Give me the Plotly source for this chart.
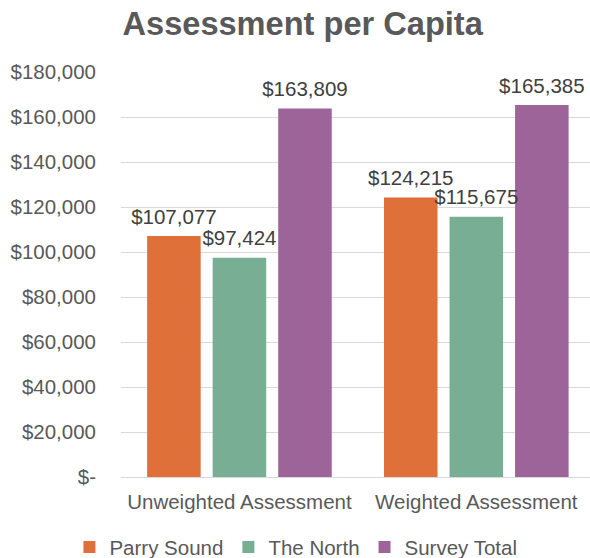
import plotly.graph_objects as go

categories = ["Unweighted Assessment", "Weighted Assessment"]
series_names = ["Parry Sound", "The North", "Survey Total"]
parry_sound = [107077, 124215]
the_north = [97424, 115675]
survey_total = [163809, 165385]
tick_values = [0, 20000, 40000, 60000, 80000, 100000, 120000, 140000, 160000, 180000]
tick_labels = ["$-", "$20,000", "$40,000", "$60,000", "$80,000", "$100,000",
               "$120,000", "$140,000", "$160,000", "$180,000"]

colors = ["#E0703A", "#77AE94", "#9D649A"]
values = [parry_sound, the_north, survey_total]

fig = go.Figure()
for name, vals, col in zip(series_names, values, colors):
    fig.add_trace(go.Bar(
        x=categories, y=vals, name=name,
        marker=dict(color=col, line=dict(width=0)),
        offsetgroup=name, hoverinfo="y",
    ))
# value labels: text-only scatter traces grouped like the bars
for name, vals in zip(series_names, values):
    fig.add_trace(go.Scatter(
        x=categories, y=vals, mode="markers+text", showlegend=False,
        offsetgroup=name, hoverinfo="skip",
        marker=dict(size=10, opacity=0),
        text=[f"${v:,.0f}" for v in vals],
        textposition="top center",
        cliponaxis=False,
        textfont=dict(family="Liberation Sans, Arial", size=20.5, color="#404040"),
    ))

fig.update_layout(
    width=590, height=558,
    margin=dict(l=121, r=0, t=72, b=81, autoexpand=False),
    paper_bgcolor="white", plot_bgcolor="white",
    barmode="group", bargap=0.17, bargroupgap=0.183,
    scattermode="group", scattergap=0.17,
    font=dict(family="Liberation Sans, Arial", size=20.5, color="#595959"),
    title=dict(text="<b>Assessment per Capita</b>", x=0.513, xanchor="center",
               xref="container", y=0.957, yref="container", yanchor="middle",
               font=dict(size=32.6, color="#595959")),
    showlegend=True,
    legend=dict(orientation="h", x=0.373, xanchor="center", y=-0.173, yanchor="middle",
                font=dict(size=20.5, color="#595959"), itemwidth=30,
                traceorder="normal"),
    xaxis=dict(range=[-0.5, 1.48], showgrid=False, showline=True, linecolor="#D9D9D9",
               linewidth=1, ticks="", automargin=False, ticklabelstandoff=6,
               tickfont=dict(size=20.5, color="#595959")),
    yaxis=dict(range=[0, 180000], tickvals=tick_values, ticktext=tick_labels,
               showgrid=True, gridcolor="#D9D9D9", gridwidth=1, zeroline=False,
               showline=False, ticks="", ticklabelstandoff=24, automargin=False,
               tickfont=dict(size=20.5, color="#595959")),
)

fig.write_html("out.html",
               config={"displayModeBar": False},
               post_script="document.body.style.margin='0px';document.body.style.overflow='hidden';")
